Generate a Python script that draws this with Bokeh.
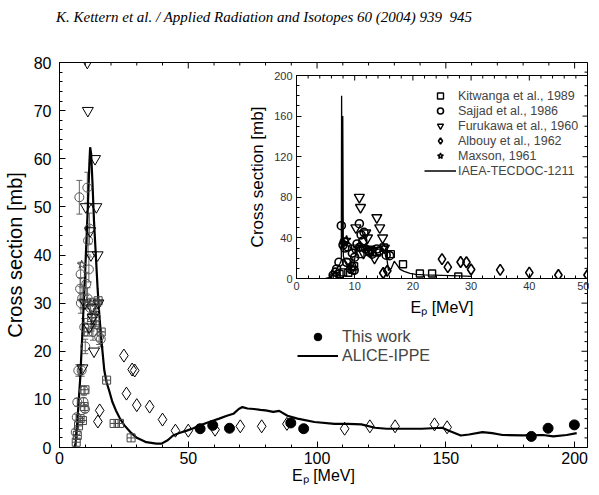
import math
from bokeh.plotting import figure
from bokeh.models import (Range1d, Legend, LegendItem, ColumnDataSource,
                          Whisker, TeeHead, Div, SingleIntervalTicker)
from bokeh.layouts import column
from bokeh.embed import file_html
from bokeh.resources import INLINE

FONT = "Liberation Sans"

# ---------------- data ----------------
header_text = "K. Kettern et al. / Applied Radiation and Isotopes 60 (2004) 939&nbsp;&nbsp;945"

this_work_e = [54.6, 59.5, 66.0, 89.8, 94.8, 183.2, 189.7, 199.9]
this_work_s = [3.9, 4.6, 4.0, 5.1, 3.9, 2.3, 4.0, 4.7]

kitwanga_e = [6.5, 6.9, 7.4, 8.0, 8.9, 9.6, 9.9, 11.0, 12.5, 13.8, 15.0, 16.2, 18.3, 21.2, 23.3, 27.8]
kitwanga_s = [1.1, 2.5, 4.5, 6.0, 5.6, 8.5, 12.0, 24.0, 27.0, 25.5, 30.5, 24.0, 14.0, 5.0, 5.0, 2.0]

sajjad_e = [6.3, 6.7, 6.9, 7.3, 7.7, 8.0, 8.2, 8.3, 8.6, 8.8, 9.3, 9.5, 9.6, 9.9, 10.0, 10.4,
            10.8, 10.9, 11.1, 11.4, 11.6, 11.9, 12.5, 13.0, 13.8, 14.2, 15.4, 16.0]
sajjad_s = [3.2, 6.3, 9.4, 16.0, 52.0, 33.0, 36.0, 30.0, 16.0, 31.0, 9.5, 11.8, 25.0, 8.0, 21.0, 34.0,
            54.0, 31.0, 43.0, 37.0, 45.5, 29.0, 26.0, 24.0, 29.0, 27.0, 23.0, 22.5]
sajjad_err = [0.5, 0.6, 0.8, 1.2, 3.5, 2.3, 2.5, 2.1, 1.2, 2.2, 0.8, 0.9, 1.8, 0.7, 1.5, 2.4,
              3.2, 2.2, 3.0, 2.6, 3.2, 2.0, 1.8, 1.7, 2.0, 1.9, 1.6, 1.6]

furukawa_e = [8.9, 9.9, 10.2, 10.8, 11.0, 11.5, 11.9, 12.2, 12.6, 12.9, 13.4, 13.8, 14.3, 14.8, 15.1]
furukawa_s = [16.5, 30.0, 50.0, 80.0, 70.0, 25.0, 45.0, 40.0, 29.0, 27.0, 20.0, 60.0, 50.0, 40.0, 30.0]

albouy_e = [14.9, 15.6, 25.0, 26.0, 28.2, 29.2, 30.0, 35.0, 40.0, 45.0, 50.0, 60.4, 70.2, 78.5,
            88.3, 110.7, 120.5, 130.3, 145.6, 150.5]
albouy_s = [5.4, 7.7, 19.1, 11.2, 16.2, 16.0, 8.8, 8.5, 5.8, 3.5, 3.5, 3.7, 4.4, 4.4,
            4.9, 3.9, 4.4, 4.4, 4.8, 4.2]

maxson_e = [8.6, 10.5, 12.0, 13.3, 15.0]
maxson_s = [38.0, 30.0, 30.0, 28.0, 30.0]

alice_e = [5.8, 6.3, 7.0, 8.0, 9.0, 10.0, 11.0, 11.6, 11.9, 12.3, 12.8, 13.4, 14.1, 14.8, 15.4,
           16.0, 16.5, 17.4, 18.3, 19.3, 20.5, 21.9, 23.5, 25.2, 27.5, 29.8, 33.7, 37.6, 39.6,
           42.0, 44.1, 46.5, 49.4, 52.0, 54.6, 57.0, 59.8, 62.0, 65.0, 67.5, 69.6, 71.0, 73.0,
           75.5, 78.0, 80.0, 83.0, 85.3, 88.5, 92.4, 99.0, 106.8, 112.0, 117.2, 122.5, 127.0,
           132.9, 140.7, 148.6, 151.2, 155.8, 159.0, 164.2, 168.0, 172.0, 179.9, 187.7, 191.7,
           196.9, 200.8]
alice_s = [0.0, 1.0, 6.0, 14.0, 25.0, 37.0, 50.0, 59.0, 62.4, 61.0, 55.0, 47.0, 40.0, 33.0, 28.0,
           24.0, 21.0, 16.0, 13.5, 11.8, 9.5, 7.7, 6.0, 4.6, 3.2, 2.1, 1.1, 0.8, 0.8,
           1.5, 2.5, 3.0, 3.5, 4.0, 4.6, 5.1, 5.6, 6.0, 6.6, 7.0, 8.0, 8.4, 8.1,
           8.0, 7.8, 7.7, 7.4, 7.6, 6.6, 6.0, 5.3, 4.9, 4.9, 4.8, 4.1, 3.9,
           3.9, 3.9, 4.1, 3.5, 2.5, 2.7, 3.2, 3.0, 2.6, 2.5, 2.6, 2.3,
           2.6, 3.0]

iaea_e = [5.0, 5.8, 6.5, 7.0, 7.5, 7.7, 7.75, 7.85, 7.95, 8.05, 8.3, 8.8, 9.3, 9.8, 10.2, 10.8,
          11.5, 12.2, 13.0, 14.0, 14.8, 15.4, 15.8, 16.3, 16.8, 17.2, 17.8, 18.5, 19.5, 20.5,
          22.0, 25.0, 28.0, 30.0]
iaea_s = [0.0, 1.0, 5.0, 10.0, 15.0, 18.0, 180.0, 30.0, 160.0, 22.0, 18.0, 14.0, 8.0, 14.0, 25.0, 33.0,
          33.0, 31.0, 30.0, 31.0, 30.0, 25.0, 8.0, 10.0, 17.0, 14.0, 9.0, 7.0, 5.0, 4.0,
          3.5, 3.0, 2.5, 2.0]

legend_inset = ["Kitwanga et al., 1989", "Sajjad et al., 1986", "Furukawa et al., 1960",
                "Albouy et al., 1962", "Maxson, 1961", "IAEA-TECDOC-1211"]
legend_main = ["This work", "ALICE-IPPE"]

# axis settings: (range end, major interval, minor interval)
main_x = (205, 50, 10)
main_y = (80, 10, 2)
inset_x = (50, 10, 2)
inset_y = (200, 40, 10)


def tick_values(end, major, minor):
    n = int(round(end / minor))
    allv = [i * minor for i in range(n + 1)]
    maj = [v for v in allv if abs(v / major - round(v / major)) < 1e-9]
    mnr = [v for v in allv if v not in maj]
    return maj, mnr


def style_axis(ax, font_size, color="black", tick_in=6, minor_in=3):
    ax.axis_line_color = "black"
    ax.major_tick_line_color = "black"
    ax.minor_tick_line_color = "black"
    ax.major_tick_in = tick_in
    ax.major_tick_out = 0
    ax.minor_tick_in = minor_in
    ax.minor_tick_out = 0
    ax.major_label_text_font = FONT
    ax.major_label_text_color = color
    ax.major_label_text_font_size = font_size
    ax.axis_label_text_font = FONT
    ax.axis_label_text_font_style = "normal"
    ax.axis_label_text_color = "black"


def mirror_ticks(fig, xs, ys, major_len, minor_len):
    """Inward tick marks on the top and right frame edges (half of each dash is clipped)."""
    xmaj, xmin = tick_values(*xs)
    ymaj, ymin = tick_values(*ys)
    for vals, ln in ((xmaj, major_len), (xmin, minor_len)):
        fig.scatter(vals, [ys[0]] * len(vals), marker="dash", angle=math.pi / 2,
                    size=2 * ln, line_color="black", line_width=1)
    for vals, ln in ((ymaj, major_len), (ymin, minor_len)):
        fig.scatter([xs[0]] * len(vals), vals, marker="dash", angle=0,
                    size=2 * ln, line_color="black", line_width=1)


# ---------------- main plot ----------------
header = Div(text=header_text, width=518, height=24,
             styles={"font-family": "Liberation Serif", "font-style": "italic",
                     "font-size": "15px", "text-align": "center", "line-height": "24px",
                     "color": "black", "white-space": "nowrap"})

p = figure(width=589, height=453, x_range=Range1d(0, main_x[0]), y_range=Range1d(0, main_y[0]),
           output_backend="svg", toolbar_location=None, title=None,
           min_border_left=56, min_border_right=2, min_border_top=28, min_border_bottom=40)
p.xgrid.visible = False
p.ygrid.visible = False
p.outline_line_color = "black"
p.background_fill_color = "white"
p.border_fill_color = "white"

p.xaxis.ticker = SingleIntervalTicker(interval=main_x[1], num_minor_ticks=main_x[1] // main_x[2])
p.yaxis.ticker = SingleIntervalTicker(interval=main_y[1], num_minor_ticks=main_y[1] // main_y[2])
style_axis(p.xaxis[0], "16px")
style_axis(p.yaxis[0], "16px")
p.xaxis.axis_label = "Eₚ [MeV]"
p.yaxis.axis_label = "Cross section [mb]"
p.xaxis.axis_label_text_font_size = "16px"
p.yaxis.axis_label_text_font_size = "20px"
p.xaxis.major_label_standoff = 4
p.yaxis.major_label_standoff = 8
p.xaxis.axis_label_standoff = 0
p.yaxis.axis_label_standoff = 5
mirror_ticks(p, main_x, main_y, 6, 3)

alice_r = p.line(alice_e, alice_s, line_color="black", line_width=2.2)

sj_src = ColumnDataSource(dict(e=sajjad_e, s=sajjad_s,
                               lo=[s - d for s, d in zip(sajjad_s, sajjad_err)],
                               hi=[s + d for s, d in zip(sajjad_s, sajjad_err)]))
p.add_layout(Whisker(source=sj_src, base="e", lower="lo", upper="hi", dimension="height",
                     line_color="#666666", line_width=1,
                     upper_head=TeeHead(size=6, line_color="#666666"),
                     lower_head=TeeHead(size=6, line_color="#666666")))
p.scatter(kitwanga_e, kitwanga_s, marker="square_cross", size=8, fill_color=None,
          line_color="#444444", line_width=1)
p.scatter("e", "s", source=sj_src, marker="circle", size=9, fill_color=None,
          line_color="#555555", line_width=1)
p.scatter(furukawa_e, furukawa_s, marker="inverted_triangle", size=11, fill_color=None,
          line_color="black", line_width=1)
p.scatter(albouy_e, albouy_s, marker="diamond", size=13, fill_color=None,
          line_color="black", line_width=1)
p.scatter(maxson_e, maxson_s, marker="star", size=9, fill_color=None,
          line_color="#444444", line_width=1)
tw_r = p.scatter(this_work_e, this_work_s, marker="circle", size=10, fill_color="black",
                 line_color="black")

leg_main = Legend(items=[LegendItem(label=legend_main[0], renderers=[tw_r]),
                         LegendItem(label=legend_main[1], renderers=[alice_r])],
                  location=(238, 82), padding=0, margin=0, spacing=0,
                  glyph_width=41, glyph_height=19, label_height=19, label_standoff=4,
                  border_line_color=None, background_fill_alpha=0,
                  label_text_font=FONT, label_text_font_size="16px")
p.add_layout(leg_main)

# ---------------- inset ----------------
q = figure(width=352, height=250, x_range=Range1d(0, inset_x[0]), y_range=Range1d(0, inset_y[0]),
           output_backend="svg", toolbar_location=None, title=None,
           min_border_left=47, min_border_right=2, min_border_top=7, min_border_bottom=40,
           margin=(-419, 0, 0, 237))
q.xgrid.visible = False
q.ygrid.visible = False
q.outline_line_color = "black"
q.background_fill_color = "white"
q.border_fill_alpha = 0
q.xaxis.ticker = SingleIntervalTicker(interval=inset_x[1], num_minor_ticks=inset_x[1] // inset_x[2])
q.yaxis.ticker = SingleIntervalTicker(interval=inset_y[1], num_minor_ticks=inset_y[1] // inset_y[2])
style_axis(q.xaxis[0], "11px", color="#333333", tick_in=5, minor_in=3)
style_axis(q.yaxis[0], "11px", color="#333333", tick_in=5, minor_in=3)
q.xaxis.axis_label = "Eₚ [MeV]"
q.yaxis.axis_label = "Cross section [mb]"
q.xaxis.axis_label_text_font_size = "16px"
q.yaxis.axis_label_text_font_size = "17px"
q.xaxis.major_label_standoff = 3
q.yaxis.major_label_standoff = 4
q.xaxis.axis_label_standoff = 6
q.yaxis.axis_label_standoff = 4
mirror_ticks(q, inset_x, inset_y, 5, 3)

iaea_r = q.line(iaea_e, iaea_s, line_color="black", line_width=1.3)
k_r = q.scatter(kitwanga_e, kitwanga_s, marker="square", size=7, fill_color=None,
                line_color="black", line_width=1.4)
s_r = q.scatter(sajjad_e, sajjad_s, marker="circle", size=8, fill_color=None,
                line_color="black", line_width=1.6)
f_r = q.scatter(furukawa_e, furukawa_s, marker="inverted_triangle", size=10, fill_color=None,
                line_color="black", line_width=1.4)
a_r = q.scatter(albouy_e, albouy_s, marker="diamond", size=11, fill_color=None,
                line_color="black", line_width=1.6)
m_r = q.scatter(maxson_e, maxson_s, marker="star", size=9, fill_color=None,
                line_color="black", line_width=1.4)

leg_in = Legend(items=[LegendItem(label=legend_inset[0], renderers=[k_r]),
                       LegendItem(label=legend_inset[1], renderers=[s_r]),
                       LegendItem(label=legend_inset[2], renderers=[f_r]),
                       LegendItem(label=legend_inset[3], renderers=[a_r]),
                       LegendItem(label=legend_inset[4], renderers=[m_r]),
                       LegendItem(label=legend_inset[5], renderers=[iaea_r])],
                location=(128, 100), padding=0, margin=0, spacing=0,
                glyph_width=32, glyph_height=15, label_height=15, label_standoff=2,
                border_line_color=None, background_fill_alpha=0,
                label_text_font=FONT, label_text_font_size="12.5px")
q.add_layout(leg_in)

layout = column(header, p, q, spacing=0)
open("out.html", "w").write(file_html(layout, INLINE))
